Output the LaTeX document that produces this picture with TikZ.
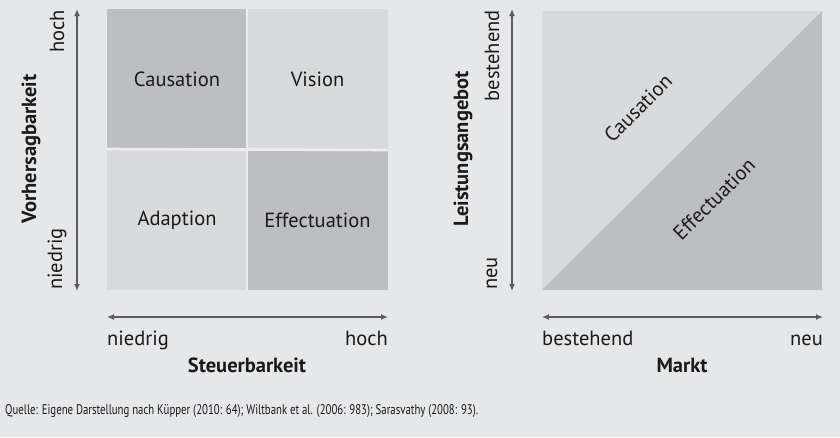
\documentclass[tikz,border=0pt]{standalone}
\usepackage{fontspec}
\setmainfont{PT Sans}
\newfontfamily\sourcefont[FakeStretch=0.77]{PT Sans}
\usetikzlibrary{arrows.meta}
\definecolor{bg}{HTML}{E6E7E9}
\definecolor{cellDark}{HTML}{BDBEC1}
\definecolor{cellLight}{HTML}{D9DADC}
\definecolor{gapline}{HTML}{EDEDEF}
\definecolor{axisgray}{HTML}{5C5C5E}
\definecolor{ink}{HTML}{1A1A1A}
\begin{document}
\begin{tikzpicture}[x=1pt,y=-1pt,
  cell/.style={minimum width=140pt,minimum height=140pt,inner sep=0pt,outer sep=0pt,text=ink,font=\fontsize{20.5}{22}\selectfont},
  axisline/.style={draw=axisgray,line width=1.3pt,{Latex[length=7pt,width=6pt]}-{Latex[length=7pt,width=6pt]}},
  ticklabel/.style={text=ink,inner sep=0pt,font=\fontsize{20.5}{22}\selectfont},
  axistitle/.style={text=ink,inner sep=0pt,font=\bfseries\fontsize{20.5}{22}\selectfont},
  diaglabel/.style={text=ink,inner sep=0pt,rotate=45,font=\fontsize{20.5}{22}\selectfont}]
\fill[bg] (0,0) rectangle (840,437);
\useasboundingbox (0,0) rectangle (840,437);

% ---- left matrix: predictability vs. controllability ----
\node[cell,fill=cellDark]  (caus) at (177,79)  {Causation};
\node[cell,fill=cellLight] (vis)  at (317.5,79)  {Vision};
\node[cell,fill=cellLight] (adap) at (177,220) {Adaption};
\node[cell,fill=cellDark]  (eff)  at (317.5,220) {Effectuation};
\draw[gapline,line width=2.6pt] (caus.north east) -- (adap.south east);
\draw[gapline,line width=2.6pt] (caus.south west) -- (eff.north east);

\coordinate (ltop) at (77,9);
\coordinate (lbot) at (77,291);
\draw[axisline] (ltop) -- (lbot);
\node[ticklabel,rotate=90,anchor=east] (lhoch) at (57,10) {hoch};
\node[ticklabel,rotate=90,anchor=west] (lnied) at (57,290) {niedrig};
\node[axistitle,rotate=90] (lytitle) at (31,149) {Vorhersagbarkeit};

\coordinate (lleft) at (107,317);
\coordinate (lright) at (388,317);
\draw[axisline] (lleft) -- (lright);
\node[ticklabel,anchor=base west] (lxlow) at (107,345) {niedrig};
\node[ticklabel,anchor=base east] (lxhigh) at (388,345) {hoch};
\node[axistitle,anchor=base] (lxtitle) at (247,372) {Steuerbarkeit};

% ---- right square: market vs. offering ----
\coordinate (sw) at (542,290);
\coordinate (se) at (822,290);
\coordinate (ne) at (822,11);
\coordinate (nw) at (542,11);
\fill[cellLight] (sw) -- (nw) -- (ne) -- cycle;
\fill[cellDark] (sw) -- (se) -- (ne) -- cycle;
\node[diaglabel] (rcaus) at (638,108) {Causation};
\node[diaglabel] (reff) at (714,199) {Effectuation};

\coordinate (rtop) at (512,9);
\coordinate (rbot) at (512,291);
\draw[axisline] (rtop) -- (rbot);
\node[ticklabel,rotate=90,anchor=east] (rbest) at (492,10) {bestehend};
\node[ticklabel,rotate=90,anchor=west] (rneu) at (492,290) {neu};
\node[axistitle,rotate=90] (rytitle) at (463,149) {Leistungsangebot};

\coordinate (rleft) at (542,317);
\coordinate (rright) at (823,317);
\draw[axisline] (rleft) -- (rright);
\node[ticklabel,anchor=base west] (rxlow) at (542,345) {bestehend};
\node[ticklabel,anchor=base east] (rxhigh) at (823,345) {neu};
\node[axistitle,anchor=base] (rxtitle) at (682,372) {Markt};

% ---- source line ----
\node[text=ink,inner sep=0pt,anchor=base west,font=\sourcefont\fontsize{14}{16}\selectfont] (src) at (5,414)
  {Quelle: Eigene Darstellung nach Küpper (2010: 64); Wiltbank et al. (2006: 983); Sarasvathy (2008: 93).};
\end{tikzpicture}
\end{document}
